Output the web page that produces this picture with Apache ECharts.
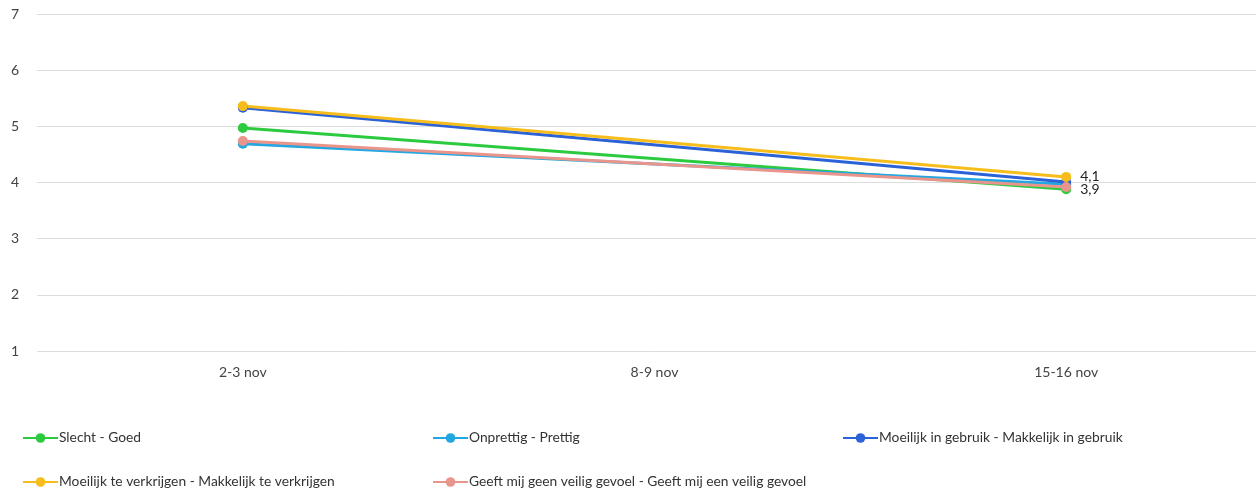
<!DOCTYPE html>
<html><head><meta charset="utf-8">
<script src="https://cdn.jsdelivr.net/npm/echarts@6/dist/echarts.min.js"></script>
<style>html,body{margin:0;padding:0;background:#fff;overflow:hidden}#c{width:1272px;height:494px}</style>
</head><body><div id="c"></div>
<script>
const categories = ['2-3 nov', '8-9 nov', '15-16 nov'];
const seriesNames = ['Slecht - Goed', 'Onprettig - Prettig', 'Moeilijk in gebruik - Makkelijk in gebruik', 'Moeilijk te verkrijgen - Makkelijk te verkrijgen', 'Geeft mij geen veilig gevoel - Geeft mij een veilig gevoel'];
const slechtGoed = [4.97, null, 3.88];
const onprettigPrettig = [4.69, null, 3.97];
const moeilijkGebruik = [5.33, null, 4.01];
const moeilijkVerkrijgen = [5.36, null, 4.10];
const veiligGevoel = [4.74, null, 3.92];
const yTicks = [1, 2, 3, 4, 5, 6, 7];
const labelled = [true, false, false, true, false];

const colors = ['#2ccb3f', '#22a7e2', '#2b62d8', '#f6bd1c', '#e9958b'];
const values = [slechtGoed, onprettigPrettig, moeilijkGebruik, moeilijkVerkrijgen, veiligGevoel];
const font = 'Lato, "Open Sans", sans-serif';

const series = values.map((vals, i) => ({
  name: seriesNames[i],
  type: 'line',
  data: vals.map((v, j) => {
    if (v === null) return null;
    const item = { value: v };
    if (labelled[i] && j === vals.length - 1) {
      item.label = {
        show: true, position: 'right', distance: 9,
        color: '#222', fontSize: 14, fontFamily: font,
        formatter: p => p.value.toFixed(1).replace('.', ',')
      };
    }
    return item;
  }),
  connectNulls: true,
  symbol: 'circle',
  symbolSize: 10,
  lineStyle: { width: 3, color: colors[i] },
  itemStyle: { color: colors[i] },
  emphasis: { disabled: true },
  animation: false
}));

const legendPos = [[22, 431], [432, 431], [842, 431], [22, 475], [432, 475]];
const legends = seriesNames.map((n, i) => ({
  data: [n], left: legendPos[i][0], top: legendPos[i][1],
  padding: 0,
  itemWidth: 35, itemHeight: 12, itemGap: 0,
  textStyle: { color: '#333', fontSize: 13.8, fontFamily: font, padding: [0, 0, 0, -4] },
  selectedMode: false
}));

const chart = echarts.init(document.getElementById('c'), null, { renderer: 'canvas' });
chart.setOption({
  backgroundColor: '#fff',
  animation: false,
  color: colors,
  legend: legends,
  grid: { left: 37, top: 14, width: 1235, height: 337, containLabel: false },
  xAxis: {
    type: 'category', data: categories, boundaryGap: true,
    axisLine: { show: false }, axisTick: { show: false },
    axisLabel: { color: '#444', fontSize: 14, fontFamily: font, margin: 14 }
  },
  yAxis: {
    type: 'value', min: yTicks[0], max: yTicks[yTicks.length - 1], interval: 1,
    axisLine: { show: false }, axisTick: { show: false },
    axisLabel: { color: '#444', fontSize: 14, fontFamily: font, margin: 18 },
    splitLine: { lineStyle: { color: '#dcdcdc', width: 1 } }
  },
  series: series
});
</script></body></html>
